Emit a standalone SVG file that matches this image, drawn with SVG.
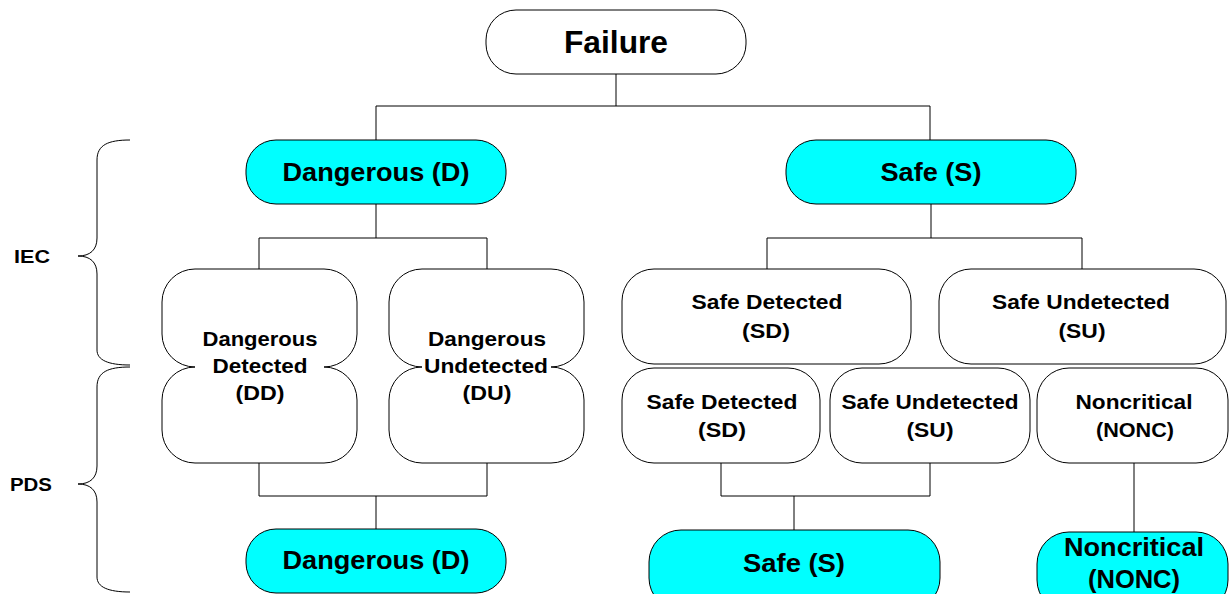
<svg xmlns="http://www.w3.org/2000/svg" width="1229" height="594" viewBox="0 0 1229 594">
  <style>
    .box { fill: #ffffff; stroke: #000000; stroke-width: 1; }
    .hi { fill: #00ffff; stroke: #000000; stroke-width: 1; }
    .wire { fill: none; stroke: #000000; stroke-width: 1; }
    text { font-family: "Liberation Sans", Arial, sans-serif; font-weight: bold; fill: #000000; text-anchor: middle; }
    .t30 { font-size: 31px; }
    .t25 { font-size: 26px; }
    .t19 { font-size: 20.5px; }
    .t18 { font-size: 19px; }
  </style>

  <!-- connectors -->
  <g id="connectors" class="wire">
    <path d="M616,74 V106 M376,106 H930 M376,106 V140 M930,106 V140"/>
    <path d="M376,204 V238 M259,238 H487 M259,238 V269 M487,238 V269"/>
    <path d="M931,204 V238 M767,238 H1082 M767,238 V269 M1082,238 V269"/>
    <path d="M259,463 V496 M487,463 V496 M259,496 H487 M376,496 V529"/>
    <path d="M721,463 V496 M930,463 V496 M721,496 H930 M794,496 V530"/>
    <path d="M1134,463 V532"/>
  </g>

  <!-- scope braces -->
  <g id="brace-iec">
    <path class="wire" d="M130,140 C108,140 97,145 97,160 V238 C97,250 90,256 78,256 C90,256 97,262 97,274 V350 C97,360 108,365 130,365"/>
    <text class="t18" x="32" y="263" textLength="36" lengthAdjust="spacingAndGlyphs">IEC</text>
  </g>
  <g id="brace-pds">
    <path class="wire" d="M130,367 C108,367 97,372 97,387 V466 C97,478 90,484 78,484 C90,484 97,490 97,502 V577 C97,587 108,592 130,592"/>
    <text class="t18" x="31" y="491" textLength="42" lengthAdjust="spacingAndGlyphs">PDS</text>
  </g>

  <!-- root -->
  <g id="failure">
    <rect class="box" x="486" y="10" width="260" height="64" rx="30" ry="30"/>
    <text class="t30" x="616" y="53" textLength="104" lengthAdjust="spacingAndGlyphs">Failure</text>
  </g>

  <!-- IEC level -->
  <g id="iec-dangerous">
    <rect class="hi" x="246" y="140" width="260" height="64" rx="30" ry="30"/>
    <text class="t25" x="376" y="181" textLength="187" lengthAdjust="spacingAndGlyphs">Dangerous (D)</text>
  </g>
  <g id="iec-safe">
    <rect class="hi" x="786" y="140" width="290" height="64" rx="30" ry="30"/>
    <text class="t25" x="931" y="181" textLength="101" lengthAdjust="spacingAndGlyphs">Safe (S)</text>
  </g>

  <!-- dangerous sub-classes (shared by both scopes) -->
  <g id="dd">
    <path class="box" d="M195,269 H324 A33,33 0 0 1 357,302 V334 A33,33 0 0 1 324,367 A33,33 0 0 1 357,400 V430 A33,33 0 0 1 324,463 H195 A33,33 0 0 1 162,430 V400 A33,33 0 0 1 195,367 A33,33 0 0 1 162,334 V302 A33,33 0 0 1 195,269 Z"/>
    <text class="t19" x="260" y="346" textLength="115" lengthAdjust="spacingAndGlyphs">Dangerous</text>
    <text class="t19" x="260" y="373" textLength="95" lengthAdjust="spacingAndGlyphs">Detected</text>
    <text class="t19" x="260" y="400" textLength="49" lengthAdjust="spacingAndGlyphs">(DD)</text>
  </g>
  <g id="du">
    <path class="box" d="M422,269 H551 A33,33 0 0 1 584,302 V334 A33,33 0 0 1 551,367 A33,33 0 0 1 584,400 V430 A33,33 0 0 1 551,463 H422 A33,33 0 0 1 389,430 V400 A33,33 0 0 1 422,367 A33,33 0 0 1 389,334 V302 A33,33 0 0 1 422,269 Z"/>
    <text class="t19" x="487" y="346" textLength="118" lengthAdjust="spacingAndGlyphs">Dangerous</text>
    <text class="t19" x="486" y="373" textLength="124" lengthAdjust="spacingAndGlyphs">Undetected</text>
    <text class="t19" x="487" y="400" textLength="49" lengthAdjust="spacingAndGlyphs">(DU)</text>
  </g>

  <!-- safe sub-classes, IEC -->
  <g id="iec-sd">
    <rect class="box" x="622" y="269" width="289" height="95" rx="32" ry="32"/>
    <text class="t19" x="767" y="309" textLength="151" lengthAdjust="spacingAndGlyphs">Safe Detected</text>
    <text class="t19" x="766" y="338" textLength="48" lengthAdjust="spacingAndGlyphs">(SD)</text>
  </g>
  <g id="iec-su">
    <rect class="box" x="939" y="269" width="287" height="95" rx="32" ry="32"/>
    <text class="t19" x="1081" y="309" textLength="178" lengthAdjust="spacingAndGlyphs">Safe Undetected</text>
    <text class="t19" x="1082" y="338" textLength="47" lengthAdjust="spacingAndGlyphs">(SU)</text>
  </g>

  <!-- safe sub-classes, PDS -->
  <g id="pds-sd">
    <rect class="box" x="622" y="368" width="198" height="95" rx="32" ry="32"/>
    <text class="t19" x="722" y="409" textLength="151" lengthAdjust="spacingAndGlyphs">Safe Detected</text>
    <text class="t19" x="722" y="437" textLength="48" lengthAdjust="spacingAndGlyphs">(SD)</text>
  </g>
  <g id="pds-su">
    <rect class="box" x="830" y="368" width="200" height="95" rx="32" ry="32"/>
    <text class="t19" x="930" y="409" textLength="177" lengthAdjust="spacingAndGlyphs">Safe Undetected</text>
    <text class="t19" x="930" y="437" textLength="47" lengthAdjust="spacingAndGlyphs">(SU)</text>
  </g>
  <g id="pds-nonc">
    <rect class="box" x="1037" y="368" width="191" height="95" rx="32" ry="32"/>
    <text class="t19" x="1134" y="409" textLength="117" lengthAdjust="spacingAndGlyphs">Noncritical</text>
    <text class="t19" x="1135" y="437" textLength="78" lengthAdjust="spacingAndGlyphs">(NONC)</text>
  </g>

  <!-- PDS level -->
  <g id="pds-dangerous">
    <rect class="hi" x="246" y="529" width="260" height="64" rx="30" ry="30"/>
    <text class="t25" x="376" y="569" textLength="187" lengthAdjust="spacingAndGlyphs">Dangerous (D)</text>
  </g>
  <g id="pds-safe">
    <rect class="hi" x="649" y="530" width="291" height="80" rx="32" ry="32"/>
    <text class="t25" x="794" y="572" textLength="102" lengthAdjust="spacingAndGlyphs">Safe (S)</text>
  </g>
  <g id="pds-noncritical">
    <rect class="hi" x="1037" y="532" width="191" height="80" rx="32" ry="32"/>
    <text class="t25" x="1134" y="556" textLength="140" lengthAdjust="spacingAndGlyphs">Noncritical</text>
    <text class="t25" x="1134" y="588" textLength="92" lengthAdjust="spacingAndGlyphs">(NONC)</text>
  </g>
</svg>
